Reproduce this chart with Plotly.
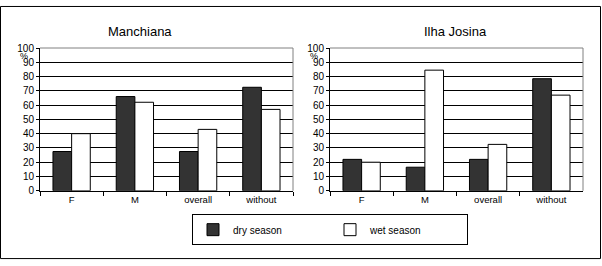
import plotly.graph_objects as go

categories = ["F", "M", "overall", "without"]
manchiana_dry = [27.5, 66, 27.5, 72.5]
manchiana_wet = [40, 62, 43, 57]
ilha_dry = [22, 16.5, 22, 78.5]
ilha_wet = [20, 84.5, 32.5, 67]
y_ticks = [0, 10, 20, 30, 40, 50, 60, 70, 80, 90, 100]

W, H = 602, 266
FONT = "Liberation Sans, Arial, sans-serif"

fig = go.Figure()
DARK = "#333333"
for i, (dry, wet) in enumerate([(manchiana_dry, manchiana_wet), (ilha_dry, ilha_wet)]):
    xa = "x" if i == 0 else "x2"
    ya = "y" if i == 0 else "y2"
    fig.add_trace(go.Bar(x=categories, y=dry, name="dry season", xaxis=xa, yaxis=ya,
                         marker=dict(color=DARK, line=dict(color="black", width=1)),
                         showlegend=(i == 0)))
    fig.add_trace(go.Bar(x=categories, y=wet, name="wet season", xaxis=xa, yaxis=ya,
                         marker=dict(color="white", line=dict(color="black", width=1)),
                         showlegend=(i == 0)))

def px_x(v):
    return v / W

def px_y(v):
    return 1 - v / H

ydom = [px_y(193.5), px_y(44)]
xdoms = [[px_x(40), px_x(293)], [px_x(330), px_x(583)]]

common_x = dict(type="category", tickson="boundaries", ticks="outside", ticklen=4,
                tickcolor="black", showline=True, linecolor="black", linewidth=1,
                showgrid=False, tickfont=dict(size=9.5, color="black", family=FONT),
                fixedrange=True)
common_y = dict(range=[0, 100], tickvals=y_ticks, ticks="outside", ticklen=3,
                tickcolor="black", showline=True, linecolor="black", linewidth=1,
                showgrid=True, gridcolor="black", gridwidth=1,
                tickfont=dict(size=10, color="black", family=FONT), zeroline=False,
                fixedrange=True)

fig.update_layout(
    width=W, height=H,
    margin=dict(l=0, r=0, t=0, b=0),
    paper_bgcolor="white", plot_bgcolor="white",
    font=dict(family=FONT, color="black"),
    barmode="group", bargap=0.41, bargroupgap=0,
    xaxis=dict(domain=xdoms[0], anchor="y", **common_x),
    yaxis=dict(domain=ydom, anchor="x", **common_y),
    xaxis2=dict(domain=xdoms[1], anchor="y2", **common_x),
    yaxis2=dict(domain=ydom, anchor="x2", **common_y),
    legend=dict(orientation="h", x=px_x(192), y=px_y(218), xanchor="left", yanchor="top",
                bordercolor="black", borderwidth=1, entrywidth=92, entrywidthmode="pixels",
                font=dict(size=10, family=FONT, color="black"), bgcolor="white",
                itemclick=False, itemdoubleclick=False),
)

shapes = []
for xd in xdoms:
    # gray top and right border of plot area
    shapes.append(dict(type="line", xref="paper", yref="paper", x0=xd[0], x1=xd[1],
                       y0=ydom[1], y1=ydom[1], line=dict(color="#808080", width=1)))
    shapes.append(dict(type="line", xref="paper", yref="paper", x0=xd[1], x1=xd[1],
                       y0=ydom[0], y1=ydom[1], line=dict(color="#808080", width=1)))
shapes.append(dict(type="rect", xref="paper", yref="paper", x0=0.5 / W, x1=1 - 1.5 / W,
                   y0=1.5 / H, y1=1 - 0.5 / H, line=dict(color="black", width=1)))
fig.update_layout(shapes=shapes)

annotations = [
    dict(text="Manchiana", x=px_x(140), y=px_y(27), xref="paper", yref="paper",
         xanchor="center", yanchor="middle",
         showarrow=False, font=dict(size=13, family=FONT, color="black")),
    dict(text="Ilha Josina", x=px_x(455), y=px_y(27), xref="paper", yref="paper",
         xanchor="center", yanchor="middle",
         showarrow=False, font=dict(size=13, family=FONT, color="black")),
    dict(text="%", x=px_x(24), y=px_y(52), xref="paper", yref="paper",
         xanchor="center", yanchor="middle",
         showarrow=False, font=dict(size=9, family=FONT, color="black")),
    dict(text="%", x=px_x(314), y=px_y(52), xref="paper", yref="paper",
         xanchor="center", yanchor="middle",
         showarrow=False, font=dict(size=9, family=FONT, color="black")),
]
fig.update_layout(annotations=annotations)

post = ("document.body.style.margin='0';document.body.style.padding='0';"
        "document.body.style.overflow='hidden';"
        "var gd=document.getElementById('{plot_id}');"
        "gd.style.position='fixed';gd.style.left='0px';gd.style.top='0px';")

fig.write_html("out.html", config=dict(displayModeBar=False), post_script=post)
